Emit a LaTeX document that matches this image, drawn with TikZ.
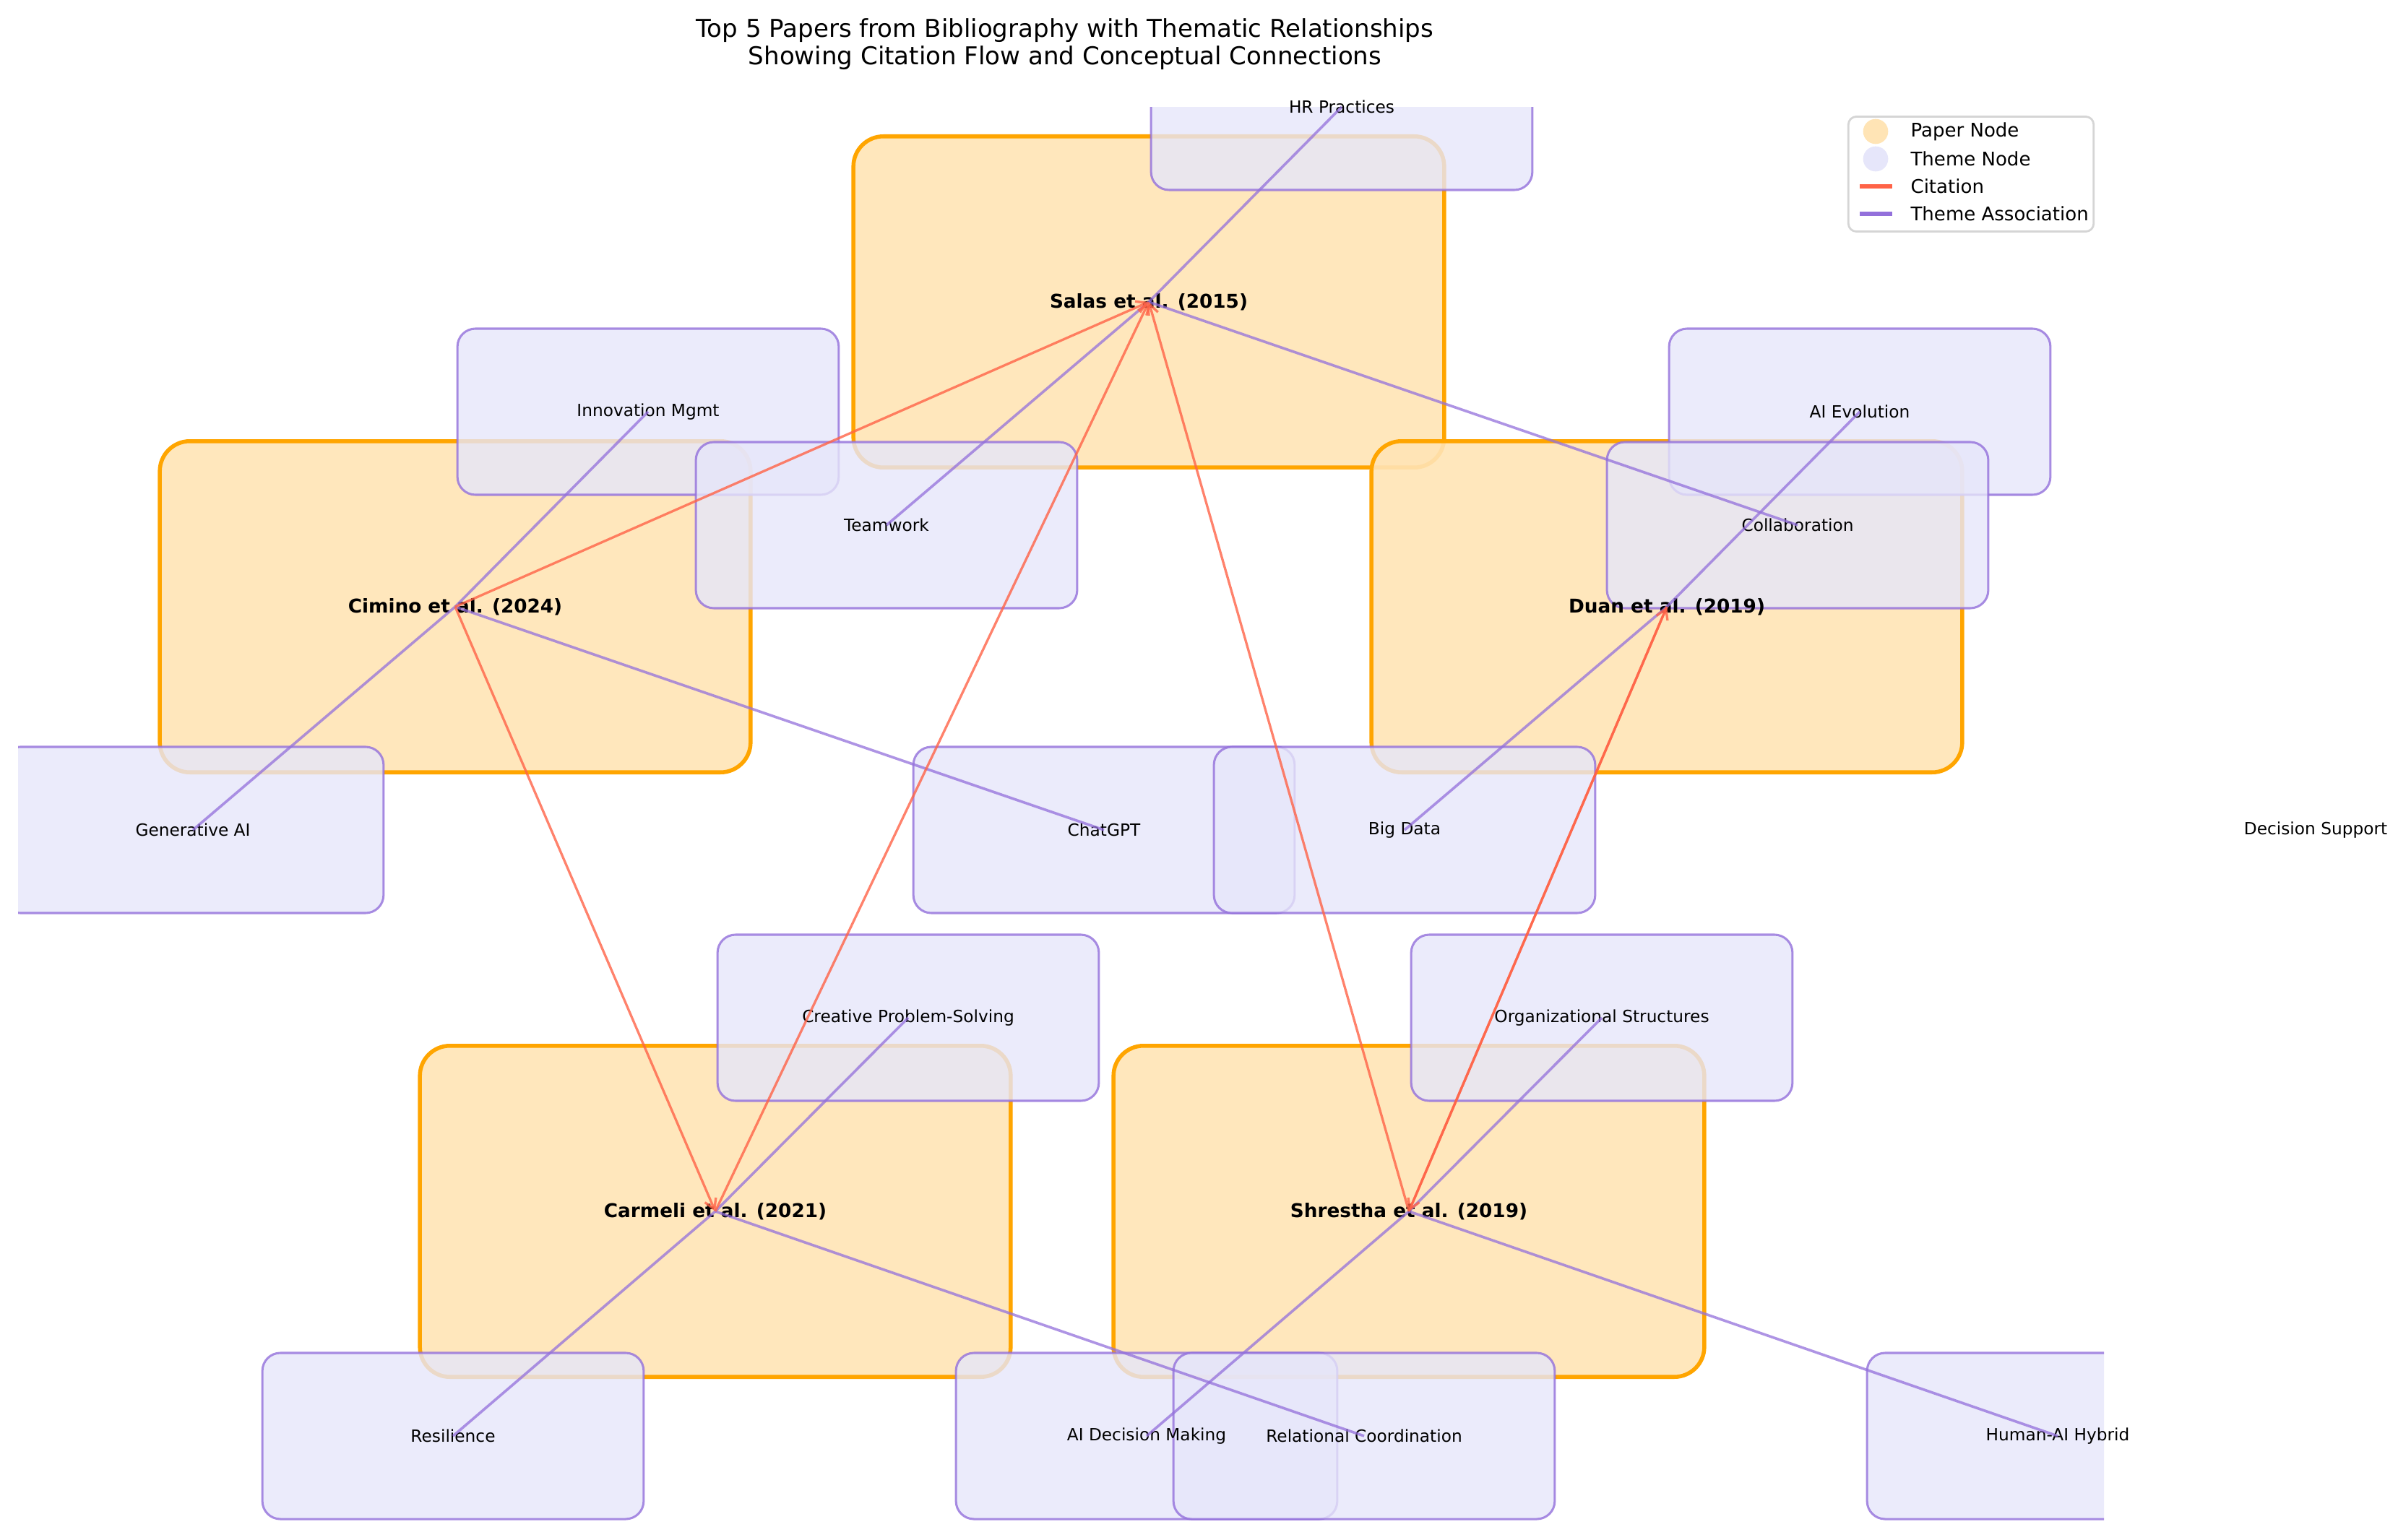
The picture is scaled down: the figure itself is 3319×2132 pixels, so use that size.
\documentclass[tikz,border=0pt]{standalone}
\usepackage{fontspec}
\setmainfont{DejaVu Sans}
\usetikzlibrary{arrows.meta}
\definecolor{moccasin}{HTML}{FFE4B5}
\definecolor{paperedge}{HTML}{FFA500}
\definecolor{lavenderbg}{HTML}{E6E6FA}
\definecolor{mpurple}{HTML}{9370DB}
\definecolor{tomatored}{HTML}{FF6347}
\definecolor{legendedge}{HTML}{D5D5D5}
\begin{document}
\begin{tikzpicture}[x=0.0127cm, y=-0.0127cm,
	paperbox/.style={draw=paperedge, line width=2pt, fill=moccasin, fill opacity=0.9, rounded corners=15pt, minimum width=10.38cm, minimum height=5.82cm, inner sep=0},
	themebox/.style={draw=mpurple, draw opacity=0.8, line width=1.1pt, fill=lavenderbg, fill opacity=0.8, rounded corners=9pt, minimum width=6.70cm, minimum height=2.92cm, inner sep=0},
	papertext/.style={inner sep=0, font=\fontsize{9.5}{11}\selectfont\bfseries},
	themetext/.style={inner sep=0, font=\fontsize{8.4}{10}\selectfont},
	legendtext/.style={inner sep=0, anchor=west, font=\fontsize{9.4}{11}\selectfont},
	citeedge/.style={draw=tomatored, draw opacity=0.8, line width=1.2pt, -{Straight Barb[length=5pt,width=6pt]}},
	themeedge/.style={draw=mpurple, draw opacity=0.75, line width=1.3pt}]
\useasboundingbox (0,0) rectangle (3319,2132);

\node[inner sep=0, align=center, font=\fontsize{12.3}{14}\selectfont] (title) at (1474,61) {Top 5 Papers from Bibliography with Thematic Relationships\\Showing Citation Flow and Conceptual Connections};

% papers
\node[paperbox] (sal) at (1590, 418) {};
\node[paperbox] (cim) at (630, 840) {};
\node[paperbox] (dua) at (2307, 840) {};
\node[paperbox] (car) at (990, 1677) {};
\node[paperbox] (shr) at (1950, 1677) {};

% themes
\begin{scope}
\clip (25,149) rectangle (2912,2132);
\node[themebox] (hr) at (1857, 148) {};
\node[themebox] (innov) at (897, 570) {};
\node[themebox] (team) at (1227, 727) {};
\node[themebox] (aievo) at (2574, 570) {};
\node[themebox] (collab) at (2488, 727) {};
\node[themebox] (genai) at (267, 1149) {};
\node[themebox] (chat) at (1528, 1149) {};
\node[themebox] (bigd) at (1944, 1149) {};
\node[themebox] (decs) at (3205, 1149) {};
\node[themebox] (creat) at (1257, 1409) {};
\node[themebox] (orgs) at (2217, 1409) {};
\node[themebox] (resil) at (627, 1988) {};
\node[themebox] (aidm) at (1587, 1988) {};
\node[themebox] (relco) at (1888, 1988) {};
\node[themebox] (hybr) at (2848, 1988) {};
\end{scope}

\node[papertext] (sal-t) at (sal) {Salas et al. (2015)};
\node[papertext] (cim-t) at (cim) {Cimino et al. (2024)};
\node[papertext] (dua-t) at (dua) {Duan et al. (2019)};
\node[papertext] (car-t) at (car) {Carmeli et al. (2021)};
\node[papertext] (shr-t) at (shr) {Shrestha et al. (2019)};

\node[themetext] (hr-t) at (hr) {HR Practices};
\node[themetext] (innov-t) at (innov) {Innovation Mgmt};
\node[themetext] (team-t) at (team) {Teamwork};
\node[themetext] (aievo-t) at (aievo) {AI Evolution};
\node[themetext] (collab-t) at (collab) {Collaboration};
\node[themetext] (genai-t) at (genai) {Generative AI};
\node[themetext] (chat-t) at (chat) {ChatGPT};
\node[themetext] (bigd-t) at (bigd) {Big Data};
\node[themetext] (decs-t) at (decs) {Decision Support};
\node[themetext] (creat-t) at (creat) {Creative Problem-Solving};
\node[themetext] (orgs-t) at (orgs) {Organizational Structures};
\node[themetext] (resil-t) at (resil) {Resilience};
\node[themetext] (aidm-t) at (aidm) {AI Decision Making};
\node[themetext] (relco-t) at (relco) {Relational Coordination};
\node[themetext] (hybr-t) at (hybr) {Human-AI Hybrid};

% theme associations
\draw[themeedge] (sal.center) -- (hr.center);
\draw[themeedge] (sal.center) -- (team.center);
\draw[themeedge] (sal.center) -- (collab.center);
\draw[themeedge] (cim.center) -- (innov.center);
\draw[themeedge] (cim.center) -- (genai.center);
\draw[themeedge] (cim.center) -- (chat.center);
\draw[themeedge] (dua.center) -- (aievo.center);
\draw[themeedge] (dua.center) -- (bigd.center);
\draw[themeedge] (car.center) -- (creat.center);
\draw[themeedge] (car.center) -- (resil.center);
\draw[themeedge] (car.center) -- (relco.center);
\draw[themeedge] (shr.center) -- (orgs.center);
\draw[themeedge] (shr.center) -- (aidm.center);
\draw[themeedge] (shr.center) -- (hybr.center);

% citations
\draw[citeedge] (cim.center) -- (sal.center);
\draw[citeedge] (cim.center) -- (car.center);
\draw[citeedge] (car.center) -- (sal.center);
\draw[citeedge] (shr.center) -- (sal.center);
\draw[citeedge] (shr.center) -- (dua.center);
\draw[citeedge] (dua.center) -- (shr.center);

% legend
\node[draw=legendedge, line width=1pt, fill=white, fill opacity=0.8, rounded corners=4pt, minimum width=4.31cm, minimum height=2.02cm, inner sep=0] (leg) at (2728, 241) {};
\node[circle, fill=moccasin, minimum size=0.44cm, inner sep=0] (leg-pap) at (2596, 182) {};
\node[circle, fill=lavenderbg, minimum size=0.44cm, inner sep=0] (leg-the) at (2596, 220) {};
\draw[tomatored, line width=2.4pt] (2574, 258) -- (2619, 258);
\draw[mpurple, line width=2.4pt] (2574, 296) -- (2619, 296);
\node[legendtext] (leg-pap-t) at (2644, 182) {Paper Node};
\node[legendtext] (leg-the-t) at (2644, 220) {Theme Node};
\node[legendtext] (leg-cit-t) at (2644, 258) {Citation};
\node[legendtext] (leg-ass-t) at (2644, 296) {Theme Association};
\end{tikzpicture}
\end{document}
